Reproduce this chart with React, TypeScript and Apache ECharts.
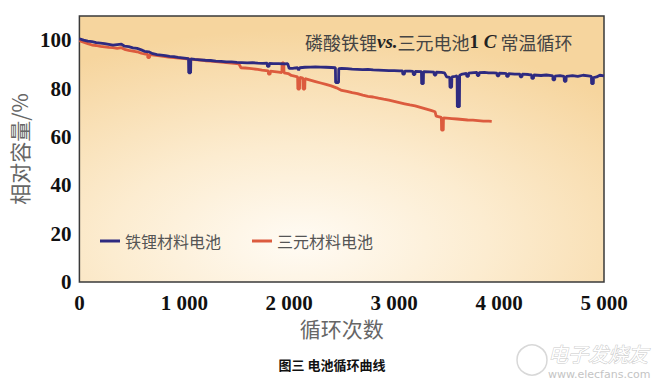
import React, { useEffect, useRef } from "react";
import * as echarts from "echarts";

const seriesNames = ["铁锂材料电池", "三元材料电池"];
const seriesColors = ["#2e2a80", "#dc5b3e"];
const yTicks = [0, 20, 40, 60, 80, 100];
const xTicks = [0, 1000, 2000, 3000, 4000, 5000];

const lfpData: [number, number][] = [
  [0, 100.6], [40, 100.0], [80, 99.6], [120, 99.4], [160, 99.0], [200, 98.8], [240, 98.6], [280, 98.3],
  [320, 98.0], [360, 98.2], [400, 98.4], [430, 97.5], [470, 97.3], [510, 96.8], [550, 96.6], [590, 96.0],
  [620, 95.4], [660, 95.2], [700, 94.4], [740, 94.0], [780, 93.8], [820, 93.6], [860, 93.3], [900, 93.2],
  [940, 92.9], [980, 92.7], [1020, 92.5], [1040, 92.4], [1042, 86.5], [1060, 86.5], [1062, 92.3],
  [1100, 92.1], [1150, 91.9], [1200, 91.7], [1250, 91.6], [1300, 91.3], [1350, 91.2], [1400, 91.0],
  [1450, 91.0], [1500, 90.8], [1550, 90.7], [1600, 90.6], [1650, 90.7], [1700, 90.5], [1750, 90.4],
  [1790, 90.5], [1792, 89.2], [1808, 89.2], [1810, 90.4], [1850, 90.3], [1900, 90.3], [1950, 90.2],
  [1985, 90.3], [2000, 88.3], [2040, 88.4], [2080, 88.6], [2090, 87.6], [2100, 88.6], [2150, 88.8],
  [2200, 88.9], [2250, 89.0], [2300, 88.9], [2350, 88.8], [2400, 88.7], [2440, 88.6], [2442, 82.5],
  [2470, 82.5], [2472, 88.2], [2500, 88.3], [2550, 88.2], [2600, 88.0], [2650, 87.9], [2700, 87.8],
  [2750, 87.9], [2800, 87.7], [2850, 87.6], [2900, 87.5], [2950, 87.4], [3000, 87.4], [3050, 87.3],
  [3080, 87.3], [3082, 86.0], [3098, 86.0], [3100, 87.2], [3150, 87.2], [3180, 87.1], [3182, 85.8],
  [3198, 85.8], [3200, 87.1], [3260, 87.0], [3262, 82.0], [3278, 82.0], [3280, 87.0], [3340, 86.9],
  [3380, 86.8], [3382, 85.6], [3398, 85.6], [3400, 86.8], [3450, 86.7], [3480, 86.5], [3500, 84.8],
  [3530, 84.6], [3532, 80.5], [3548, 80.5], [3550, 84.8], [3580, 85.0], [3600, 85.2], [3602, 72.5],
  [3622, 72.5], [3624, 85.5], [3650, 86.0], [3690, 86.3], [3692, 85.0], [3708, 85.0], [3710, 86.4],
  [3760, 86.6], [3790, 86.7], [3792, 85.4], [3808, 85.4], [3810, 86.6], [3860, 86.7], [3900, 86.5],
  [3950, 86.5], [3980, 86.4], [3982, 85.2], [3998, 85.2], [4000, 86.4], [4050, 86.3], [4070, 86.2],
  [4072, 85.0], [4088, 85.0], [4090, 86.2], [4150, 86.0], [4200, 86.0], [4202, 84.8], [4218, 84.8],
  [4220, 86.0], [4280, 85.8], [4310, 85.6], [4312, 84.2], [4328, 84.2], [4330, 85.6], [4400, 85.4],
  [4450, 85.6], [4500, 85.3], [4512, 85.2], [4514, 83.6], [4530, 83.6], [4532, 85.1], [4580, 85.3],
  [4620, 85.0], [4622, 83.0], [4638, 83.0], [4640, 85.0], [4700, 85.3], [4750, 85.0], [4800, 85.5],
  [4850, 85.2], [4880, 85.0], [4882, 82.0], [4898, 82.0], [4900, 84.5], [4930, 84.8], [4960, 85.5],
  [5000, 85.2],
];

const nmcData: [number, number][] = [
  [0, 99.8], [40, 99.2], [80, 98.6], [120, 98.0], [160, 97.8], [200, 97.4], [240, 97.2], [280, 97.0],
  [320, 96.9], [360, 96.6], [400, 96.9], [430, 96.2], [470, 95.8], [510, 95.5], [550, 95.2], [590, 94.6],
  [630, 94.2], [650, 94.1], [652, 92.8], [668, 92.8], [670, 94.0], [710, 93.8], [750, 93.6], [800, 93.3],
  [850, 93.0], [900, 92.8], [950, 92.6], [1000, 92.4], [1050, 92.2], [1100, 92.0], [1150, 91.8],
  [1200, 91.5], [1250, 91.3], [1300, 91.1], [1350, 90.9], [1400, 90.7], [1450, 90.5], [1500, 90.3],
  [1520, 90.2], [1540, 88.6], [1580, 88.5], [1620, 88.3], [1660, 88.1], [1700, 87.9], [1740, 87.6],
  [1780, 87.4], [1800, 87.3], [1802, 86.0], [1818, 86.0], [1820, 87.2], [1860, 87.0], [1900, 86.8],
  [1930, 86.6], [1932, 90.6], [1948, 90.6], [1950, 86.5], [1990, 86.2], [2020, 85.4], [2060, 85.0],
  [2080, 84.8], [2082, 79.8], [2098, 79.8], [2100, 84.6], [2130, 84.3], [2132, 79.8], [2148, 79.8],
  [2150, 84.1], [2200, 83.5], [2250, 82.9], [2300, 82.3], [2350, 81.7], [2400, 81.1], [2450, 80.3],
  [2500, 79.2], [2550, 78.8], [2600, 78.3], [2650, 77.9], [2700, 77.3], [2750, 76.8], [2800, 76.5],
  [2850, 76.0], [2900, 75.6], [2950, 75.2], [3000, 74.7], [3050, 74.2], [3100, 73.7], [3150, 73.2],
  [3200, 72.8], [3250, 72.2], [3300, 71.6], [3350, 71.0], [3390, 70.4], [3400, 68.6], [3440, 68.2],
  [3450, 68.0], [3452, 62.8], [3468, 62.8], [3470, 67.9], [3500, 67.8], [3550, 67.6], [3600, 67.4],
  [3650, 67.2], [3700, 67.0], [3750, 66.9], [3800, 66.7], [3850, 66.5], [3900, 66.5], [3930, 66.4],
];

const cjk = '"Noto Sans CJK SC", sans-serif';
const serif = '"Liberation Serif", "DejaVu Serif", serif';

function fmtX(v: number): string {
  if (!xTicks.includes(v)) return "";
  if (v < 1000) return String(v);
  return `${Math.floor(v / 1000)} ${String(v % 1000).padStart(3, "0")}`;
}

export default function App() {
  const ref = useRef<HTMLDivElement>(null);
  useEffect(() => {
    if (!ref.current) return;
    const chart = echarts.init(ref.current, null, { renderer: "svg" });
    chart.setOption({
      animation: false,
      backgroundColor: "#ffffff",
      grid: {
        left: 77,
        top: 16,
        width: 527,
        height: 266,
        show: true,
        borderColor: "#3a3a3a",
        borderWidth: 1.5,
        backgroundColor: new echarts.graphic.RadialGradient(0.42, 0.85, 0.8, [
          { offset: 0, color: "#fffbf4" },
          { offset: 0.45, color: "#fcecd0" },
          { offset: 1, color: "#f6d59e" },
        ]),
      },
      title: {
        text: "{a|磷酸铁锂}{b|vs.}{a|三元电池}{c|1 }{b|C}{a| 常温循环}",
        left: 300,
        top: 27,
        textStyle: {
          fontWeight: "normal",
          rich: {
            a: { fontFamily: cjk, fontSize: 18, fontWeight: "normal", color: "#444" },
            b: { fontFamily: serif, fontSize: 19, fontWeight: "bold", fontStyle: "italic", color: "#222" },
            c: { fontFamily: serif, fontSize: 19, fontWeight: "bold", color: "#222" },
          },
        },
      },
      legend: {
        left: 100,
        top: 233,
        padding: 0,
        icon: "rect",
        itemWidth: 20,
        itemHeight: 3,
        itemGap: 31,
        data: seriesNames,
        textStyle: { fontFamily: cjk, fontSize: 16, color: "#555" },
      },
      xAxis: {
        type: "value",
        min: 0,
        max: 5000,
        interval: 1000,
        name: "循环次数",
        nameLocation: "middle",
        nameGap: 33,
        nameTextStyle: { fontFamily: cjk, fontSize: 21, color: "#666" },
        axisLine: { show: false },
        axisTick: { show: false },
        splitLine: { show: false },
        axisLabel: {
          margin: 10,
          fontFamily: serif,
          fontWeight: "bold",
          fontSize: 21,
          color: "#111",
          formatter: fmtX,
        },
      },
      yAxis: {
        type: "value",
        min: 0,
        max: 110,
        interval: 20,
        name: "相对容量/%",
        nameLocation: "middle",
        nameGap: 47,
        nameTextStyle: { fontFamily: cjk, fontSize: 21, color: "#666" },
        axisLine: { show: false },
        axisTick: { show: false },
        splitLine: { show: false },
        axisLabel: {
          margin: 8,
          fontFamily: serif,
          fontWeight: "bold",
          fontSize: 21,
          color: "#111",
          showMaxLabel: false,
          formatter: (v: number) => (yTicks.includes(v) ? String(v) : ""),
        },
      },
      series: [
        {
          name: seriesNames[1],
          type: "line",
          data: nmcData,
          showSymbol: false,
          color: seriesColors[1],
          lineStyle: { width: 2.8, color: seriesColors[1] },
          z: 2,
        },
        {
          name: seriesNames[0],
          type: "line",
          data: lfpData,
          showSymbol: false,
          color: seriesColors[0],
          lineStyle: { width: 2.8, color: seriesColors[0] },
          z: 3,
        },
      ],
      graphic: [
        {
          type: "text",
          left: "center",
          top: 358,
          style: {
            text: "图三 电池循环曲线",
            font: `bold 13px ${cjk}`,
            fill: "#111",
          },
        },
        {
          type: "circle",
          shape: { cx: 532, cy: 360, r: 15 },
          style: { fill: "none", stroke: "#d8d8d8", lineWidth: 1.5 },
        },
        {
          type: "text",
          x: 548,
          y: 343,
          style: {
            text: "电子发烧友",
            font: `italic 20px ${cjk}`,
            fill: "#fff",
            stroke: "#c8c8c8",
            lineWidth: 1,
          },
        },
        {
          type: "text",
          x: 548,
          y: 369,
          style: {
            text: "www.elecfans.com",
            font: `11px "DejaVu Sans", sans-serif`,
            fill: "#c4c4c4",
          },
        },
      ],
    });
    return () => chart.dispose();
  }, []);
  return (
    <div
      ref={ref}
      style={{ position: "fixed", left: 0, top: 0, width: 664, height: 389 }}
    />
  );
}
